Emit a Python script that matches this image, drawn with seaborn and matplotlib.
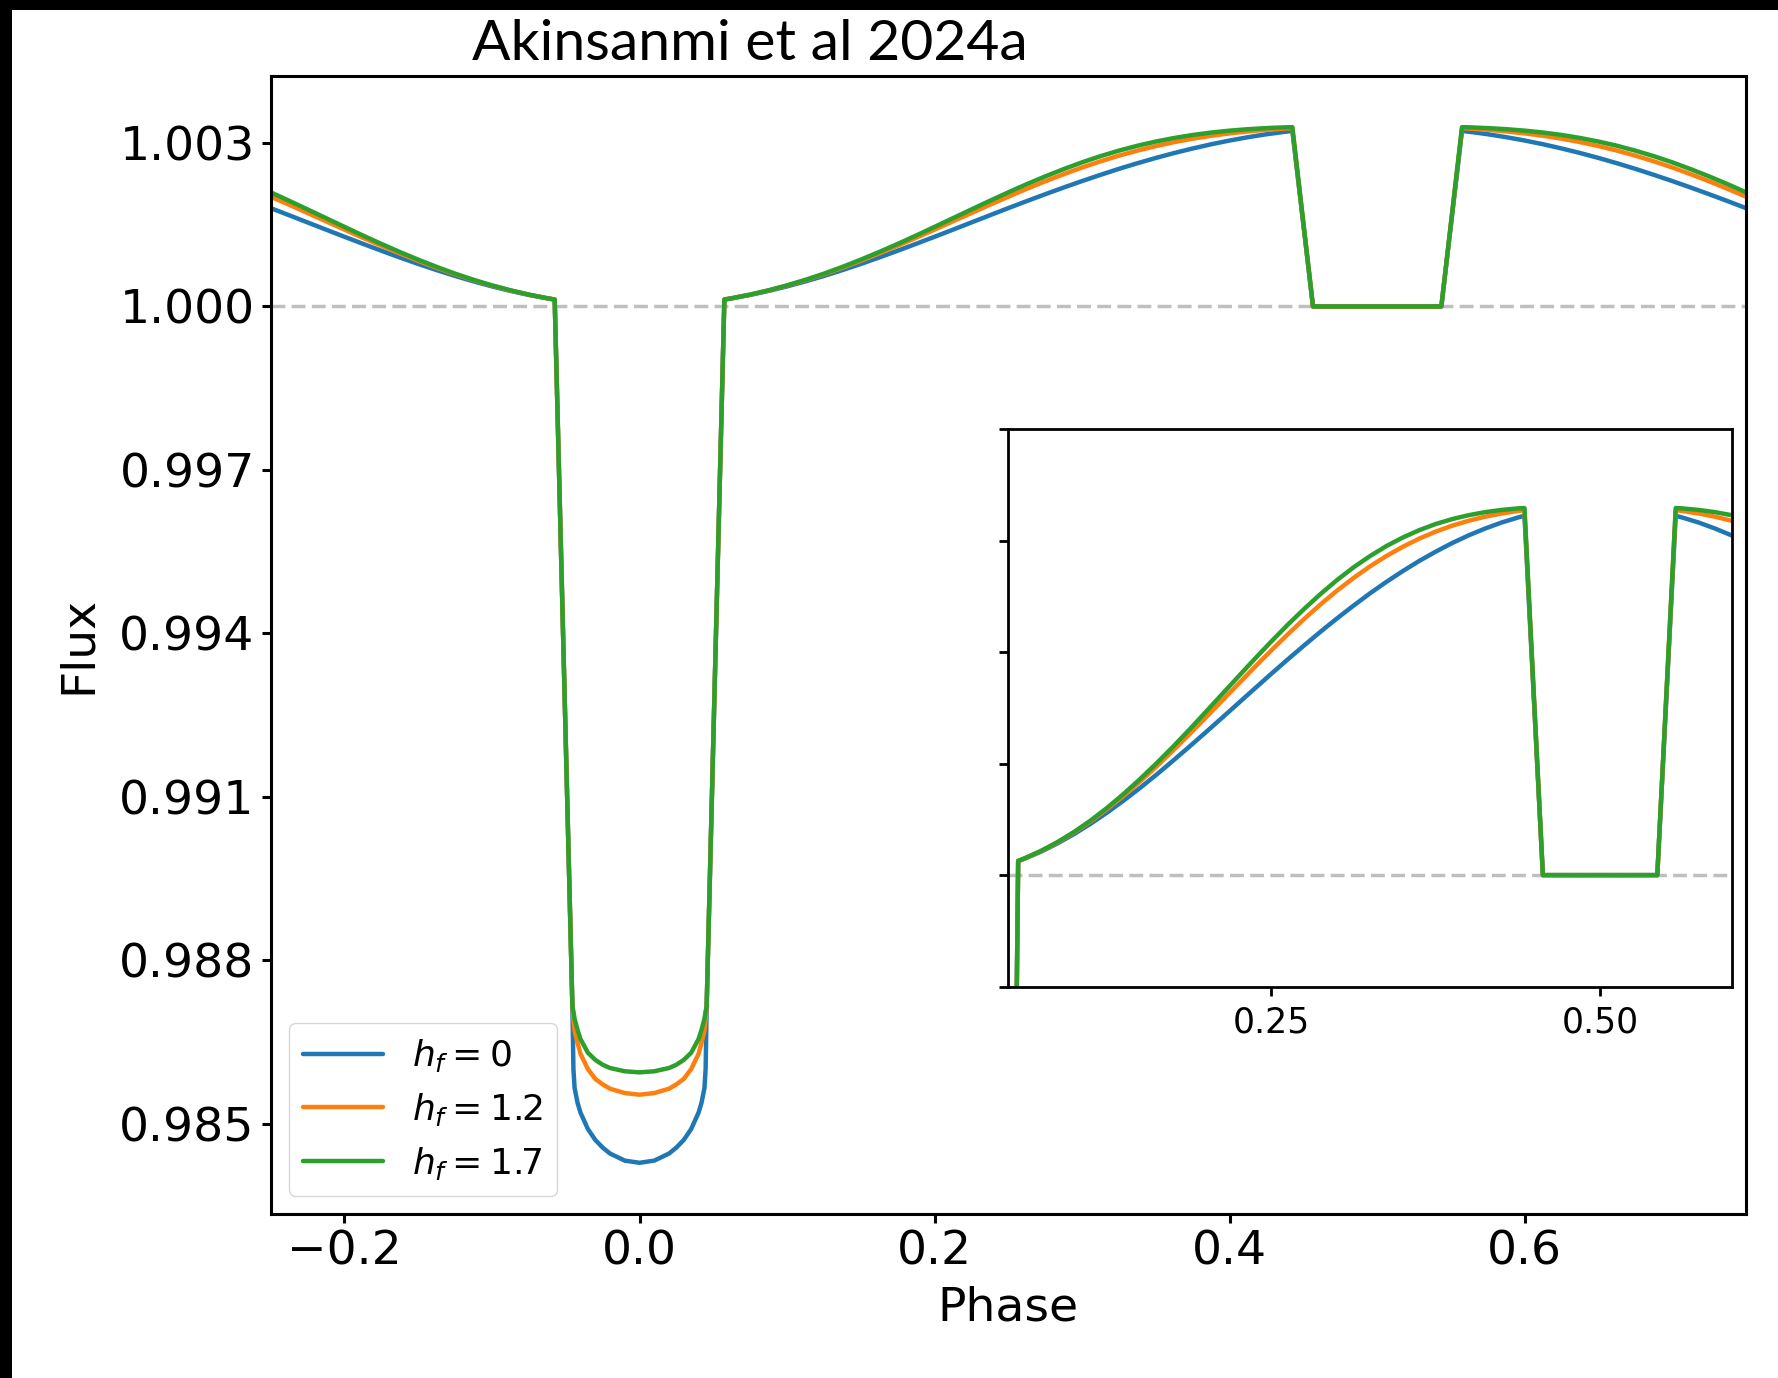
import matplotlib
matplotlib.use("Agg")
import matplotlib.pyplot as plt
from matplotlib.patches import Rectangle
from matplotlib.ticker import FormatStrFormatter
import pandas as pd
import seaborn as sns

# Orbital phase grid shared by the three light-curve models
phase = [
    # before transit
    -0.25, -0.2375, -0.225, -0.2125, -0.2, -0.1875, -0.175, -0.1625, -0.15, -0.1375,
    -0.125, -0.1125, -0.1, -0.0875, -0.075, -0.0625, -0.0575,
    # transit
    -0.0455, -0.0448, -0.044, -0.042, -0.04, -0.035, -0.03, -0.025, -0.02, -0.01, 0.0,
    0.01, 0.02, 0.025, 0.03, 0.035, 0.04, 0.042, 0.044, 0.0448, 0.0455,
    # between transit and eclipse
    0.0575, 0.0625, 0.075, 0.0875, 0.1, 0.1125, 0.125, 0.1375, 0.15, 0.1625, 0.175,
    0.1875, 0.2, 0.2125, 0.225, 0.2375, 0.25, 0.2625, 0.275, 0.2875, 0.3, 0.3125,
    0.325, 0.3375, 0.35, 0.3625, 0.375, 0.3875, 0.4, 0.4125, 0.425, 0.4375, 0.4425,
    # eclipse floor
    0.4565, 0.5435,
    # after eclipse
    0.5575, 0.5625, 0.575, 0.5875, 0.6, 0.6125, 0.625, 0.6375, 0.65, 0.6625, 0.675,
    0.6875, 0.7, 0.7125, 0.725, 0.7375, 0.75,
]

flux_h0 = [
    1.001805, 1.001674, 1.001542, 1.001410, 1.001279, 1.001150, 1.001023, 1.000899, 1.000780, 1.000667,
    1.000560, 1.000460, 1.000368, 1.000285, 1.000211, 1.000148, 1.000125,
    0.98715, 0.98600, 0.98565, 0.98538, 0.98520, 0.98490, 0.98470, 0.98456, 0.98445, 0.98432, 0.98428,
    0.98432, 0.98445, 0.98456, 0.98470, 0.98490, 0.98520, 0.98538, 0.98565, 0.98600, 0.98715,
    1.000125, 1.000148, 1.000211, 1.000285, 1.000368, 1.000460, 1.000560, 1.000667, 1.000780, 1.000899, 1.001023,
    1.001150, 1.001279, 1.001410, 1.001542, 1.001674, 1.001805, 1.001934, 1.002060, 1.002183, 1.002302, 1.002416,
    1.002526, 1.002629, 1.002726, 1.002817, 1.002900, 1.002977, 1.003046, 1.003107, 1.003161, 1.003206, 1.003222,
    1.000000, 1.000000,
    1.003222, 1.003206, 1.003161, 1.003107, 1.003046, 1.002977, 1.002900, 1.002817, 1.002726, 1.002629, 1.002526,
    1.002416, 1.002302, 1.002183, 1.002060, 1.001934, 1.001805,
]

flux_h12 = [
    1.002015, 1.001867, 1.001715, 1.001563, 1.001411, 1.001260, 1.001114, 1.000972, 1.000837, 1.000709,
    1.000591, 1.000481, 1.000382, 1.000293, 1.000216, 1.000150, 1.000127,
    0.98715, 0.98690, 0.98670, 0.98648, 0.98628, 0.98600, 0.98582, 0.98572, 0.98564, 0.98556, 0.98553,
    0.98556, 0.98564, 0.98572, 0.98582, 0.98600, 0.98628, 0.98648, 0.98670, 0.98690, 0.98715,
    1.000127, 1.000150, 1.000216, 1.000293, 1.000382, 1.000481, 1.000591, 1.000709, 1.000837, 1.000972, 1.001114,
    1.001260, 1.001411, 1.001563, 1.001715, 1.001867, 1.002015, 1.002159, 1.002297, 1.002428, 1.002551, 1.002664,
    1.002768, 1.002861, 1.002944, 1.003017, 1.003080, 1.003133, 1.003177, 1.003213, 1.003242, 1.003265, 1.003272,
    1.000000, 1.000000,
    1.003272, 1.003265, 1.003242, 1.003213, 1.003177, 1.003133, 1.003080, 1.003017, 1.002944, 1.002861, 1.002768,
    1.002664, 1.002551, 1.002428, 1.002297, 1.002159, 1.002015,
]

flux_h17 = [
    1.002095, 1.001940, 1.001781, 1.001621, 1.001461, 1.001302, 1.001148, 1.001000, 1.000859, 1.000726,
    1.000602, 1.000489, 1.000387, 1.000297, 1.000218, 1.000151, 1.000128,
    0.98715, 0.98706, 0.98692, 0.98672, 0.98655, 0.98630, 0.98617, 0.98608, 0.98602, 0.98596, 0.98594,
    0.98596, 0.98602, 0.98608, 0.98617, 0.98630, 0.98655, 0.98672, 0.98692, 0.98706, 0.98715,
    1.000128, 1.000151, 1.000218, 1.000297, 1.000387, 1.000489, 1.000602, 1.000726, 1.000859, 1.001000, 1.001148,
    1.001302, 1.001461, 1.001621, 1.001781, 1.001940, 1.002095, 1.002245, 1.002387, 1.002521, 1.002646, 1.002759,
    1.002860, 1.002950, 1.003027, 1.003093, 1.003148, 1.003192, 1.003227, 1.003254, 1.003274, 1.003288, 1.003291,
    1.000000, 1.000000,
    1.003291, 1.003288, 1.003274, 1.003254, 1.003227, 1.003192, 1.003148, 1.003093, 1.003027, 1.002950, 1.002860,
    1.002759, 1.002646, 1.002521, 1.002387, 1.002245, 1.002095,
]

model_labels = [r"$h_f = 0$", r"$h_f = 1.2$", r"$h_f = 1.7$"]
model_colors = ["#1f77b4", "#ff7f0e", "#2ca02c"]

x_ticks = [-0.2, 0.0, 0.2, 0.4, 0.6]
y_ticks = [0.985, 0.988, 0.991, 0.994, 0.997, 1.000, 1.003]
inset_x_ticks = [0.25, 0.50]
inset_x_labels = ["0.25", "0.50"]

title_text = "Akinsanmi et al 2024a"

n = len(phase)
df = pd.DataFrame({
    "phase": phase * 3,
    "flux": flux_h0 + flux_h12 + flux_h17,
    "model": [model_labels[0]] * n + [model_labels[1]] * n + [model_labels[2]] * n,
})

sns.set_style("ticks")
plt.rcParams["font.family"] = ["DejaVu Sans"]
plt.rcParams["axes.edgecolor"] = "black"
plt.rcParams["xtick.color"] = "black"
plt.rcParams["ytick.color"] = "black"
plt.rcParams["text.color"] = "black"
plt.rcParams["axes.labelcolor"] = "black"

fig = plt.figure(figsize=(17.78, 13.78), dpi=100)
fig.patch.set_facecolor("white")

LW = 3.2
DASH = (0, (4.0, 1.8))

# main panel
ax = fig.add_axes([0.15225, 0.11901, 0.82975, 0.82583])
ax.axhline(1.0, color="gray", alpha=0.5, ls=DASH, lw=2.5, zorder=1)
sns.lineplot(data=df, x="phase", y="flux", hue="model", palette=model_colors,
             hue_order=model_labels, sort=False, estimator=None, lw=LW, ax=ax, zorder=2)
ax.set_xlim(-0.25, 0.75)
ax.set_ylim(0.98334, 1.00423)
ax.set_xticks(x_ticks)
ax.set_yticks(y_ticks)
ax.yaxis.set_major_formatter(FormatStrFormatter("%.3f"))
ax.tick_params(labelsize=34, width=2.2, length=6.5, pad=5)
for s in ax.spines.values():
    s.set_linewidth(2.2)
    s.set_visible(True)
ax.set_xlabel("Phase", fontsize=34)
ax.set_ylabel("Flux", fontsize=34)
ax.xaxis.set_label_coords(0.5, -0.063)
ax.yaxis.set_label_coords(-0.1150, 0.5)

handles, labels = ax.get_legend_handles_labels()
leg = ax.legend(handles, labels, loc="lower left", fontsize=26, handlelength=2.2,
                borderaxespad=0.5, frameon=True, fancybox=True, edgecolor="0.8",
                framealpha=0.8, labelspacing=0.46)
for h in leg.get_lines():
    h.set_linewidth(LW)

# zoomed inset around the out-of-transit phase curve and eclipse
axin = fig.add_axes([0.5671, 0.2840, 0.4068, 0.4047])
axin.axhline(1.0, color="gray", alpha=0.5, ls=DASH, lw=2.5, zorder=1)
sns.lineplot(data=df, x="phase", y="flux", hue="model", palette=model_colors,
             hue_order=model_labels, sort=False, estimator=None, lw=LW, ax=axin,
             legend=False, zorder=2)
axin.set_xlim(0.05, 0.6)
axin.set_ylim(0.999, 1.004)
axin.set_xticks(inset_x_ticks)
axin.set_xticklabels(inset_x_labels)
axin.set_yticks([0.999, 1.000, 1.001, 1.002, 1.003, 1.004])
axin.set_yticklabels([])
axin.set_xlabel("")
axin.set_ylabel("")
axin.tick_params(labelsize=25, width=2.0, length=6.5, pad=7)
for s in axin.spines.values():
    s.set_linewidth(2.0)
    s.set_visible(True)

# slide frame: black bars along top and left edges
fig.add_artist(Rectangle((0, 1 - 10 / 1378), 1, 10 / 1378, transform=fig.transFigure,
                         facecolor="black", edgecolor="none", zorder=10))
fig.add_artist(Rectangle((0, 0), 12 / 1778, 1, transform=fig.transFigure,
                         facecolor="black", edgecolor="none", zorder=10))

fig.text(0.4218, 1 - 60 / 1378, title_text, fontsize=41, family=["Lato", "DejaVu Sans"],
         ha="center", va="baseline", color="black")

fig.savefig("out.png", dpi=100, facecolor="white")
